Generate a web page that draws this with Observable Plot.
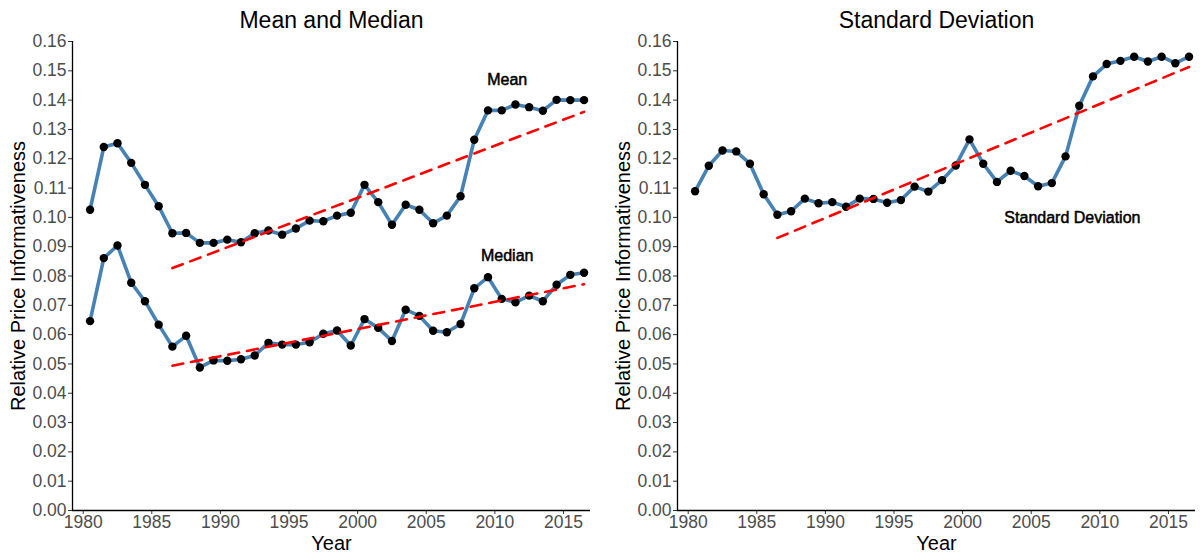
<!DOCTYPE html>
<html>
<head>
<meta charset="utf-8">
<script src="https://cdn.jsdelivr.net/npm/d3@7"></script>
<script src="https://cdn.jsdelivr.net/npm/@observablehq/plot@0.6"></script>
<style>
  html, body { margin: 0; padding: 0; background: #fff; }
  #wrap { display: flex; width: 1200px; height: 555px; }
  #wrap svg { display: block; }
</style>
</head>
<body>
<div id="wrap"></div>
<script>
// Mid-year positions of the annual observations
const years = [1980.5,1981.5,1982.5,1983.5,1984.5,1985.5,1986.5,1987.5,1988.5,1989.5,
  1990.5,1991.5,1992.5,1993.5,1994.5,1995.5,1996.5,1997.5,1998.5,1999.5,
  2000.5,2001.5,2002.5,2003.5,2004.5,2005.5,2006.5,2007.5,2008.5,2009.5,
  2010.5,2011.5,2012.5,2013.5,2014.5,2015.5,2016.5];
const meanValues = [0.1026,0.1240,0.1253,0.1186,0.1111,0.1038,0.0946,0.0947,0.0913,0.0913,
  0.0924,0.0915,0.0946,0.0955,0.0941,0.0962,0.0989,0.0987,0.1006,0.1016,
  0.1111,0.1052,0.0975,0.1043,0.1026,0.0980,0.1006,0.1072,0.1265,0.1365,
  0.1365,0.1385,0.1376,0.1364,0.1401,0.1400,0.1400];
const medianValues = [0.0646,0.0861,0.0904,0.0777,0.0714,0.0634,0.0559,0.0596,0.0488,0.0512,
  0.0511,0.0516,0.0529,0.0572,0.0566,0.0566,0.0574,0.0603,0.0614,0.0563,
  0.0653,0.0623,0.0578,0.0685,0.0664,0.0613,0.0608,0.0636,0.0758,0.0796,
  0.0722,0.0710,0.0733,0.0714,0.0770,0.0804,0.0811];
const sdValues = [0.1089,0.1176,0.1228,0.1225,0.1183,0.1079,0.1009,0.1021,0.1064,0.1048,
  0.1052,0.1036,0.1064,0.1063,0.1050,0.1059,0.1105,0.1088,0.1127,0.1177,
  0.1266,0.1183,0.1121,0.1159,0.1141,0.1106,0.1117,0.1208,0.1381,0.1481,
  0.1523,0.1534,0.1548,0.1532,0.1548,0.1526,0.1548];
// Linear trend endpoints
const trendYears = [1986.5, 2016.5];
const meanTrend = [0.0827, 0.1360];
const medianTrend = [0.0494, 0.0772];
const sdTrend = [0.0930, 0.1513];
// Axis ticks
const xTicks = [1980,1985,1990,1995,2000,2005,2010,2015];
const yTicks = [0,0.01,0.02,0.03,0.04,0.05,0.06,0.07,0.08,0.09,0.10,0.11,0.12,0.13,0.14,0.15,0.16];
// Labels
const panelTitles = ["Mean and Median", "Standard Deviation"];
const yLabel = "Relative Price Informativeness";
const xLabel = "Year";
const annotations = [
  {panel: 0, year: 2010.9, value: 0.1470, text: "Mean"},
  {panel: 0, year: 2010.9, value: 0.0867, text: "Median"},
  {panel: 1, year: 2008.0, value: 0.1000, text: "Standard Deviation"}
];

const table = years.map((y, i) => ({year: y, mean: meanValues[i], median: medianValues[i], sd: sdValues[i]}));
const trendTable = trendYears.map((y, i) => ({year: y, mean: meanTrend[i], median: medianTrend[i], sd: sdTrend[i]}));

const FONT = "'Liberation Sans', Arial, Helvetica, sans-serif";
const X_DOMAIN = [1979.22, 2016.97];
const TICK_FONT = 17.5;
const hasAxisMarks = typeof Plot.axisX === "function";

function panel(idx, series, marginLeft, marginRight) {
  const lineMarks = series.flatMap(key => [
    Plot.line(table, {x: "year", y: key, stroke: "#4682B4", strokeWidth: 3.6}),
    Plot.dot(table, {x: "year", y: key, r: 4.2, fill: "black", stroke: "none"}),
    Plot.line(trendTable, {x: "year", y: key, stroke: "#FF0000", strokeWidth: 2.6, strokeDasharray: "11,8"})
  ]);
  const axisMarks = hasAxisMarks ? [
    Plot.axisX({ticks: xTicks, tickFormat: d => String(d), tickSize: 4, tickPadding: 1, label: null,
      fontSize: TICK_FONT, fill: "#4d4d4d", stroke: "#333", fontFamily: FONT}),
    Plot.axisY({ticks: yTicks, tickFormat: d3.format(".2f"), tickSize: 4, tickPadding: 2, label: null,
      fontSize: TICK_FONT, fill: "#4d4d4d", stroke: "#333", fontFamily: FONT})
  ] : [];
  return Plot.plot({
    width: 600,
    height: 555,
    marginLeft, marginRight,
    marginTop: 41,
    marginBottom: 45,
    style: {fontFamily: FONT, fontSize: TICK_FONT + "px", color: "#4d4d4d", background: "white"},
    x: hasAxisMarks ? {domain: X_DOMAIN} :
      {domain: X_DOMAIN, ticks: xTicks, tickFormat: d => String(d), tickSize: 4, tickPadding: 1, label: null},
    y: hasAxisMarks ? {domain: [0, 0.16]} :
      {domain: [0, 0.16], ticks: yTicks, tickFormat: d3.format(".2f"), tickSize: 4, tickPadding: 2, label: null},
    marks: [
      ...axisMarks,
      ...lineMarks,
      Plot.ruleY([0], {stroke: "black", strokeWidth: 1.3}),
      Plot.ruleX([X_DOMAIN[0]], {stroke: "black", strokeWidth: 1.3}),
      Plot.text(annotations.filter(a => a.panel === idx), {
        x: "year", y: "value", text: "text", fill: "black", stroke: "black", strokeWidth: 0.5,
        fontSize: 16, fontFamily: FONT
      }),
      Plot.text([panelTitles[idx]], {frameAnchor: "top", lineAnchor: "middle", dy: -21, fill: "black", fontSize: 23, fontFamily: FONT}),
      Plot.text([xLabel], {frameAnchor: "bottom", lineAnchor: "middle", dy: 33, fill: "black", fontSize: 20, fontFamily: FONT}),
      Plot.text([yLabel], {frameAnchor: "left", textAnchor: "middle", lineAnchor: "middle", rotate: -90, dx: -54, fill: "black", fontSize: 20, fontFamily: FONT})
    ]
  });
}

const wrap = document.getElementById("wrap");
wrap.appendChild(panel(0, ["mean", "median"], 72, 10));
wrap.appendChild(panel(1, ["sd"], 77, 5));
</script>
</body>
</html>
